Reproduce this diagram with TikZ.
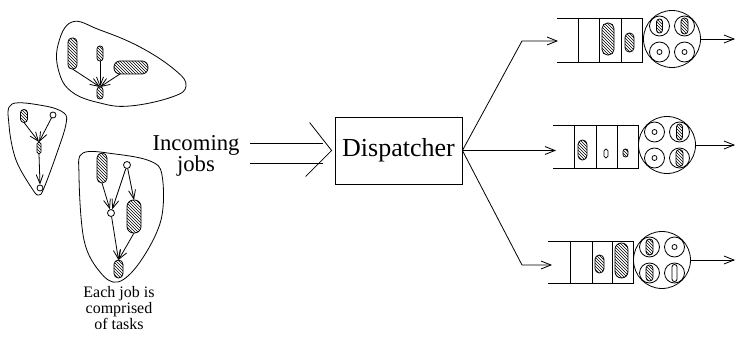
\documentclass[tikz,border=0pt]{standalone}
\usepackage{fontspec}
\setmainfont{Liberation Serif}
\usetikzlibrary{arrows.meta,patterns}

\begin{document}
\begin{tikzpicture}[x=1pt,y=-1pt,line width=0.8pt,
  arr/.style={-{Straight Barb[length=10pt,width=8pt]}},
  sarr/.style={-{Straight Barb[length=9pt,width=7pt]}},
  task/.style n args={3}{draw,pattern=north west lines,rounded corners=#3,
    minimum width=#1,minimum height=#2,inner sep=0pt,outer sep=0pt},
  ptask/.style n args={3}{draw,rounded corners=#3,
    minimum width=#1,minimum height=#2,inner sep=0pt,outer sep=0pt},
  dot/.style={draw,circle,minimum size=#1,inner sep=0pt},
  slot/.style={draw,circle,minimum size=20pt,inner sep=0pt},
  server/.style={draw,circle,minimum size=57pt,inner sep=0pt},
  blob/.style={draw,line width=0.8pt}]
\useasboundingbox (0,0) rectangle (737,337);

% ---- job 1 (top) ----
\draw[blob] plot[smooth cycle,tension=0.7] coordinates
  {(72,22) (100,30) (140,47) (175,70) (186,86) (172,97) (130,106) (100,103) (72,92) (59,72) (58,45)};
\node[task={9pt}{31pt}{4pt}]  (a1) at (72.5,53.5) {};
\node[task={6pt}{15pt}{2.9pt}] (a2) at (100,53.5) {};
\node[task={34pt}{13pt}{6pt}] (a3) at (131,67.5) {};
\node[task={6pt}{12pt}{2.9pt}] (a4) at (100,93) {};
\draw[sarr] (a1.south) -- (a4.north);
\draw[sarr] (a2.south) -- (a4.north);
\draw[sarr] ([xshift=6pt]a3.south west) -- (a4.north);

% ---- job 2 (left) ----
\draw[blob] plot[smooth cycle,tension=0.6] coordinates
  {(12,104) (45,106) (64,113) (66,124) (58,150) (44,188) (39,195) (33,190) (16,160) (9,125)};
\node[task={7pt}{13pt}{3.3pt}] (b1) at (24,116) {};
\node[dot=6pt] (b2) at (53,115) {};
\node[task={4pt}{12pt}{1.9pt}] (b3) at (39,148) {};
\node[dot=6pt] (b4) at (40,188) {};
\draw[sarr] (b1.south) -- (b3.north);
\draw[sarr] (b2) -- (b3.north);
\draw[sarr] (b3.south) -- (b4.north);

% ---- job 3 (bottom) ----
\draw[blob] plot[smooth cycle,tension=0.6] coordinates
  {(83,153) (115,154) (150,161) (162,175) (161,220) (140,262) (118,282) (100,272) (84,240) (79,175)};
\node[task={10pt}{30pt}{4.9pt}] (c1) at (102,168) {};
\node[dot=7pt] (c2) at (127,165) {};
\node[dot=7pt] (c3) at (111,213) {};
\node[task={14pt}{33pt}{6.5pt}] (c4) at (134,216.5) {};
\node[task={9pt}{18pt}{4.4pt}] (c5) at (118.5,269) {};
\draw[sarr] (c1.south) -- (c3);
\draw[sarr] (c2) -- (c3);
\draw[sarr] (c2) -- (c4.north);
\draw[sarr] (c3) -- (c5.north);
\draw[sarr] (c4.south) -- (c5.north);

\node[align=center,font=\fontsize{16}{14.5}\selectfont] (cap) at (119,308) {Each job is\\comprised\\of tasks};

% ---- incoming jobs ----
\node[align=center,font=\fontsize{22.7}{19}\selectfont] (inc) at (196,156) {Incoming\\jobs};
\node[draw,minimum width=127pt,minimum height=67pt,inner sep=0pt,
  font=\fontsize{26}{30}\selectfont] (disp) at (398.5,150.5) {Dispatcher};
\coordinate (tip) at ([xshift=-3pt]disp.west);
\coordinate (u0) at (250,143);
\coordinate (u1) at (323,143);
\coordinate (l0) at (250,163);
\coordinate (l1) at (323,163);
\draw (u0) -- (u1);
\draw (l0) -- (l1);
\draw ([shift={(-26pt,-26pt)}]tip) -- (tip) -- ([shift={(-22pt,28pt)}]tip);

% ---- routes to the queues ----
\coordinate (bend1) at (522,41);
\coordinate (in1) at (558,41);
\coordinate (in2) at (556,150.5);
\coordinate (bend3) at (522,265);
\coordinate (in3) at (552,265);
\draw[arr] (disp.east) -- (bend1) -- (in1);
\draw[arr] (disp.east) -- (in2);
\draw[arr] (disp.east) -- (bend3) -- (in3);

% ---- queue 1 ----
\draw (557,18) -- (642,18) -- (642,62) -- (557,62);
\draw (578,18) -- (578,62) (599,18) -- (599,62) (621,18) -- (621,62);
\node[task={12pt}{32pt}{5.5pt}] (q1b) at (608,39) {};
\node[task={9pt}{19pt}{4.3pt}] (q1c) at (629.5,42.5) {};
\node[server] (s1) at (672,39) {};
\node[slot] (s1a) at (659.5,26) {};
\node[slot] (s1b) at (684.5,26) {};
\node[slot] (s1c) at (659.5,52) {};
\node[slot] (s1d) at (684.5,52) {};
\node[task={6pt}{14pt}{2.9pt}] at (s1a) {};
\node[task={7pt}{16pt}{3.4pt}] at (s1b) {};
\node[dot=5pt] at (s1c) {};
\node[dot=5pt] at (s1d) {};
\coordinate (out1) at (735,39);
\draw[arr] (s1.east) -- (out1);

% ---- queue 2 ----
\draw (553,125) -- (638,125) -- (638,168) -- (553,168);
\draw (574,125) -- (574,168) (596,125) -- (596,168) (617,125) -- (617,168);
\node[task={9pt}{20pt}{4.4pt}] (q2a) at (582.5,150) {};
\node[ptask={4pt}{9pt}{1.9pt}] (q2b) at (606,153.5) {};
\node[task={5pt}{8pt}{2.4pt}] (q2c) at (625.5,153) {};
\node[server] (s2) at (667,145) {};
\node[slot] (s2a) at (654.5,132) {};
\node[slot] (s2b) at (679.5,132) {};
\node[slot] (s2c) at (654.5,158) {};
\node[slot] (s2d) at (679.5,158) {};
\node[dot=5pt] at (s2a) {};
\node[task={6pt}{16pt}{2.9pt}] at (s2b) {};
\node[dot=5pt] at (s2c) {};
\node[task={7pt}{17pt}{3.4pt}] at (s2d) {};
\coordinate (out2) at (735,145);
\draw[arr] (s2.east) -- (out2);

% ---- queue 3 ----
\draw (548,241) -- (633,241) -- (633,283) -- (548,283);
\draw (570,241) -- (570,283) (592,241) -- (592,283) (612,241) -- (612,283);
\node[task={9pt}{18pt}{4.4pt}] (q3b) at (599.5,264) {};
\node[task={13pt}{35pt}{6.4pt}] (q3c) at (621.5,260.5) {};
\node[server] (s3) at (662,260) {};
\node[slot] (s3a) at (649.5,247) {};
\node[slot] (s3b) at (674.5,247) {};
\node[slot] (s3c) at (649.5,273) {};
\node[slot] (s3d) at (674.5,273) {};
\node[task={7pt}{16pt}{3.4pt}] at (s3a) {};
\node[dot=5pt] at (s3b) {};
\node[task={7pt}{16pt}{3.4pt}] at (s3c) {};
\node[ptask={5pt}{17pt}{2.4pt}] at (s3d) {};
\coordinate (out3) at (735,260);
\draw[arr] (s3.east) -- (out3);
\end{tikzpicture}
\end{document}
